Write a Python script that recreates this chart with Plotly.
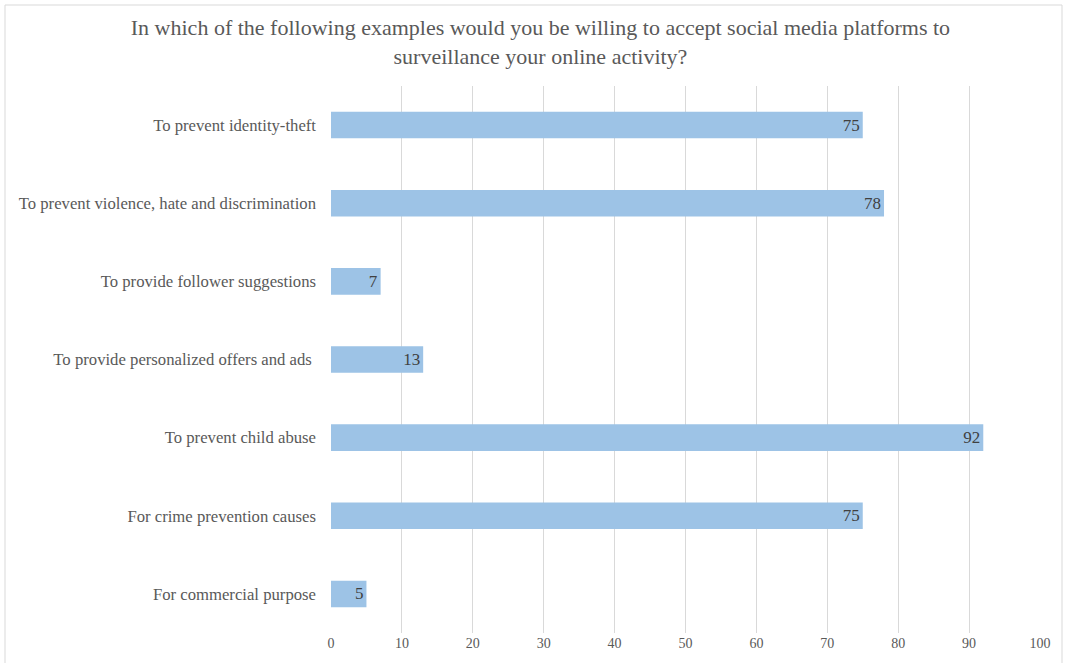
import plotly.graph_objects as go

categories = [
    "To prevent identity-theft",
    "To prevent violence, hate and discrimination",
    "To provide follower suggestions",
    "To provide personalized offers and ads ",
    "To prevent child abuse",
    "For crime prevention causes",
    "For commercial purpose",
]
values = [75, 78, 7, 13, 92, 75, 5]
x_ticks = [0, 10, 20, 30, 40, 50, 60, 70, 80, 90, 100]

FONT = "Liberation Serif, Times New Roman, serif"
TXT = "#595959"

fig = go.Figure(go.Bar(
    y=categories, x=values, orientation="h",
    marker=dict(color="#9DC3E6", line=dict(width=0)),
    text=[str(v) for v in values], textposition="inside", insidetextanchor="end",
    textfont=dict(family=FONT, size=17, color="#404040"),
    cliponaxis=False,
))

L, R, T, B = 331, 26, 86, 30
W, H = 1066, 663
pw, ph = W - L - R, H - T - B

fig.update_layout(
    width=W, height=H,
    margin=dict(l=L, r=R, t=T, b=B),
    paper_bgcolor="white", plot_bgcolor="white",
    bargap=0.66,
    showlegend=False,
    title=dict(
        text="In which of the following examples would you be willing to accept social media platforms to<br>surveillance your online activity?",
        x=0.507, xanchor="center", y=0.947, yanchor="top",
        font=dict(family=FONT, size=22, color=TXT),
    ),
    font=dict(family=FONT, size=16, color=TXT),
    xaxis=dict(
        range=[0, 100], tickvals=x_ticks, showgrid=True, gridcolor="#D9D9D9", gridwidth=1,
        zeroline=False, showline=False, ticks="", tickfont=dict(family=FONT, size=14, color=TXT),
        fixedrange=True,
    ),
    yaxis=dict(
        autorange="reversed", showgrid=False, showline=False, ticks="",
        ticklabelstandoff=14, tickfont=dict(family=FONT, size=16.7, color=TXT),
    ),
    shapes=[dict(
        type="rect", xref="paper", yref="paper",
        x0=(5 - L) / pw, x1=(1062 - L) / pw,
        y0=(H - B - 680) / ph, y1=(H - B - 5) / ph,
        line=dict(color="#D9D9D9", width=1), fillcolor="rgba(0,0,0,0)", layer="below",
    )],
)

fig.write_html("out.html", config={"displayModeBar": False},
               post_script="document.body.style.margin='0';")
